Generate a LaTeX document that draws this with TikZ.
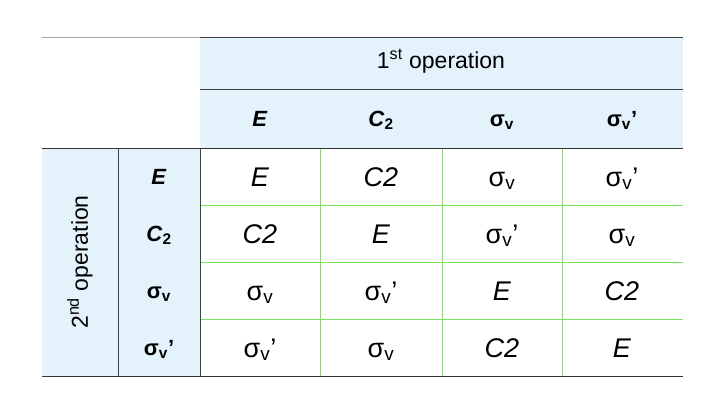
\documentclass[tikz,border=0pt]{standalone}
\usepackage{fontspec}
\setmainfont{Liberation Sans}
\usetikzlibrary{positioning}
\definecolor{headblue}{RGB}{228,242,252}
\definecolor{gridgreen}{RGB}{120,230,90}
\newcommand{\sv}{σ\textsubscript{v}}
\newcommand{\svp}{σ\textsubscript{v}’}
\newcommand{\bsv}{\textbf{σ\textsubscript{v}}}
\newcommand{\bsvp}{\textbf{σ\textsubscript{v}’}}
\tikzset{
  cell/.style={font=\fontsize{27}{30}\selectfont, anchor=base, yshift=-10pt},
  head/.style={font=\fontsize{22}{26}\selectfont\bfseries, anchor=base, yshift=-8pt},
}
\begin{document}
\begin{tikzpicture}[x=1pt,y=-1pt]
    \useasboundingbox (0,0) rectangle (710,400);

    % header and label backgrounds
    \fill[headblue] (200,37) rectangle (683,148);
    \fill[headblue] (42,148) rectangle (200,376);

    % body grid
    \foreach \x in {320,442,562} \draw[gridgreen, thick] (\x,148) -- (\x,376);
    \foreach \y in {205,262,319} \draw[gridgreen, thick] (200,\y) -- (683,\y);

    % rules
    \draw[gray!70, thick] (42,37) -- (200,37);
    \draw[black!75, thick] (200,37) -- (683,37);
    \draw[black!75] (200,89) -- (683,89);
    \draw[black!80, thick] (42,148) -- (683,148);
    \draw[black!80, thick] (42,376) -- (683,376);
    \draw[black!75] (118,148) -- (118,376);
    \draw[black!75] (200,148) -- (200,376);

    % headings
    \node[font=\fontsize{23}{26}\selectfont] (top) at (441,61) {1\textsuperscript{st} operation};
    \node[font=\fontsize{23}{26}\selectfont, rotate=90] (side) at (80,262) {2\textsuperscript{nd} operation};

    \node[head] (hE) at (260,118) {\textit{E}};
    \node[head] (hC) at (381,118) {\textit{C}\textsubscript{2}};
    \node[head] (hs) at (502,118) {\bsv};
    \node[head] (hsp) at (622,118) {\bsvp};

    \node[head] (rE) at (159,176) {\textit{E}};
    \node[head] (rC) at (159,233) {\textit{C}\textsubscript{2}};
    \node[head] (rs) at (159,290) {\bsv};
    \node[head] (rsp) at (159,347) {\bsvp};

    % products
    \node[cell] (c11) at (260,176) {\textit{E}};
    \node[cell] (c12) at (381,176) {\textit{C2}};
    \node[cell] (c13) at (502,176) {\sv};
    \node[cell] (c14) at (622,176) {\svp};

    \node[cell] (c21) at (260,233) {\textit{C2}};
    \node[cell] (c22) at (381,233) {\textit{E}};
    \node[cell] (c23) at (502,233) {\svp};
    \node[cell] (c24) at (622,233) {\sv};

    \node[cell] (c31) at (260,290) {\sv};
    \node[cell] (c32) at (381,290) {\svp};
    \node[cell] (c33) at (502,290) {\textit{E}};
    \node[cell] (c34) at (622,290) {\textit{C2}};

    \node[cell] (c41) at (260,347) {\svp};
    \node[cell] (c42) at (381,347) {\sv};
    \node[cell] (c43) at (502,347) {\textit{C2}};
    \node[cell] (c44) at (622,347) {\textit{E}};
\end{tikzpicture}
\end{document}
